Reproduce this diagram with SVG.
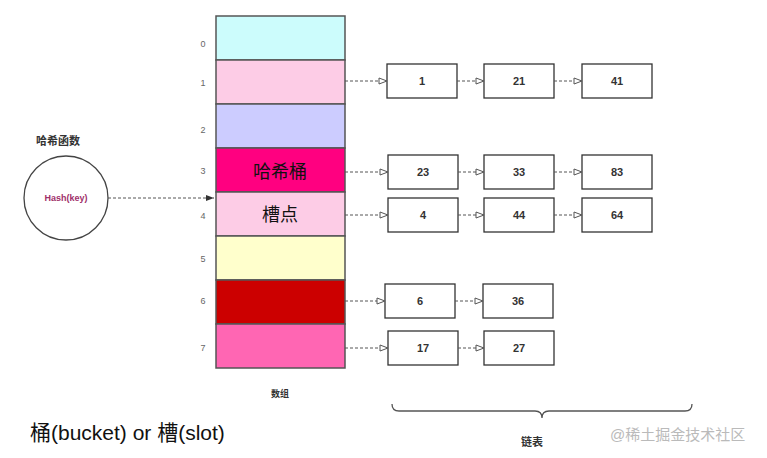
<svg xmlns="http://www.w3.org/2000/svg" width="767" height="458" viewBox="0 0 767 458">
<style>
.cell{stroke:#555;stroke-width:1.5}
.box{fill:#fff;stroke:#333;stroke-width:1.3}
.t{font-family:"Liberation Sans","Noto Sans CJK SC",sans-serif;fill:#333}
.n{font-size:11px;font-weight:bold;text-anchor:middle}
.i{font-size:9px;fill:#666;text-anchor:middle}
.c{stroke:#555;stroke-width:1;stroke-dasharray:3,2;fill:none;marker-end:url(#ah)}
</style>
<defs>
<marker id="ah" markerWidth="10" markerHeight="8" refX="9" refY="4" orient="auto" markerUnits="userSpaceOnUse"><path d="M1,1 L9,4 L1,7 Z" fill="#fff" stroke="#555"/></marker>
<marker id="af" markerWidth="10" markerHeight="8" refX="9" refY="4" orient="auto" markerUnits="userSpaceOnUse"><path d="M1,1 L9,4 L1,7 Z" fill="#333"/></marker>
</defs>
<g id="array">
<rect class="cell" x="216" y="16" width="129" height="44" fill="#ccfcfc"/>
<rect class="cell" x="216" y="60" width="129" height="44" fill="#fdcce6"/>
<rect class="cell" x="216" y="104" width="129" height="44" fill="#ccccff"/>
<rect class="cell" x="216" y="148" width="129" height="44" fill="#ff0080"/>
<rect class="cell" x="216" y="192" width="129" height="44" fill="#fdcce6"/>
<rect class="cell" x="216" y="236" width="129" height="44" fill="#ffffcc"/>
<rect class="cell" x="216" y="280" width="129" height="44" fill="#cc0000"/>
<rect class="cell" x="216" y="324" width="129" height="44" fill="#ff66b3"/>
<text class="t" x="280" y="178" font-size="18" text-anchor="middle" style="fill:#111">哈希桶</text>
<text class="t" x="280" y="221" font-size="18" text-anchor="middle" style="fill:#111">槽点</text>
<g class="t i">
<text x="203" y="47">0</text><text x="203" y="86">1</text><text x="203" y="133">2</text><text x="203" y="174">3</text><text x="203" y="219">4</text><text x="203" y="262">5</text><text x="203" y="304">6</text><text x="203" y="351">7</text>
</g>
<text class="t" x="280" y="397" font-size="9" font-weight="bold" text-anchor="middle">数组</text>
</g>
<g id="hash">
<text class="t" x="58" y="145" font-size="11" font-weight="bold" text-anchor="middle">哈希函数</text>
<circle cx="66" cy="198" r="42" fill="#fff" stroke="#444" stroke-width="1.3"/>
<text class="t" x="66" y="201" font-size="9" font-weight="bold" text-anchor="middle" style="fill:#a0306a">Hash(key)</text>
</g>
<g id="nodes">
<rect class="box" x="387" y="64" width="70" height="34"/><text class="t n" x="422" y="85">1</text>
<rect class="box" x="484" y="64" width="70" height="34"/><text class="t n" x="519" y="85">21</text>
<rect class="box" x="582" y="64" width="70" height="34"/><text class="t n" x="617" y="85">41</text>
<rect class="box" x="388" y="155" width="70" height="34"/><text class="t n" x="423" y="176">23</text>
<rect class="box" x="484" y="155" width="70" height="34"/><text class="t n" x="519" y="176">33</text>
<rect class="box" x="582" y="155" width="70" height="34"/><text class="t n" x="617" y="176">83</text>
<rect class="box" x="388" y="198" width="70" height="34"/><text class="t n" x="423" y="219">4</text>
<rect class="box" x="484" y="198" width="70" height="34"/><text class="t n" x="519" y="219">44</text>
<rect class="box" x="582" y="198" width="70" height="34"/><text class="t n" x="617" y="219">64</text>
<rect class="box" x="385" y="284" width="70" height="34"/><text class="t n" x="420" y="305">6</text>
<rect class="box" x="483" y="284" width="70" height="34"/><text class="t n" x="518" y="305">36</text>
<rect class="box" x="388" y="331" width="70" height="34"/><text class="t n" x="423" y="352">17</text>
<rect class="box" x="484" y="331" width="70" height="34"/><text class="t n" x="519" y="352">27</text>
</g>
<g id="connectors">
<path d="M108,198 L214,198" stroke="#555" stroke-width="1" stroke-dasharray="3,2" marker-end="url(#af)"/>
<path class="c" d="M345,81 L387,81"/><path class="c" d="M457,81 L484,81"/><path class="c" d="M554,81 L582,81"/>
<path class="c" d="M345,172 L388,172"/><path class="c" d="M458,172 L484,172"/><path class="c" d="M554,172 L582,172"/>
<path class="c" d="M345,215 L388,215"/><path class="c" d="M458,215 L484,215"/><path class="c" d="M554,215 L582,215"/>
<path class="c" d="M345,301 L385,301"/><path class="c" d="M455,301 L483,301"/>
<path class="c" d="M345,348 L388,348"/><path class="c" d="M458,348 L484,348"/>
</g>
<g id="brace">
<path d="M392,404 Q392,411 399,411 L535,411 Q542,411 542,418 Q542,411 549,411 L685,411 Q692,411 692,404" fill="none" stroke="#555" stroke-width="1.3"/>
<text class="t" x="532" y="446" font-size="11" font-weight="bold" text-anchor="middle">链表</text>
</g>
<text class="t" x="30" y="440" font-size="21" style="fill:#111">桶(bucket) or 槽(slot)</text>
<text class="t" x="610" y="440" font-size="15" style="fill:#aaa" opacity="0.8">@稀土掘金技术社区</text>
</svg>
